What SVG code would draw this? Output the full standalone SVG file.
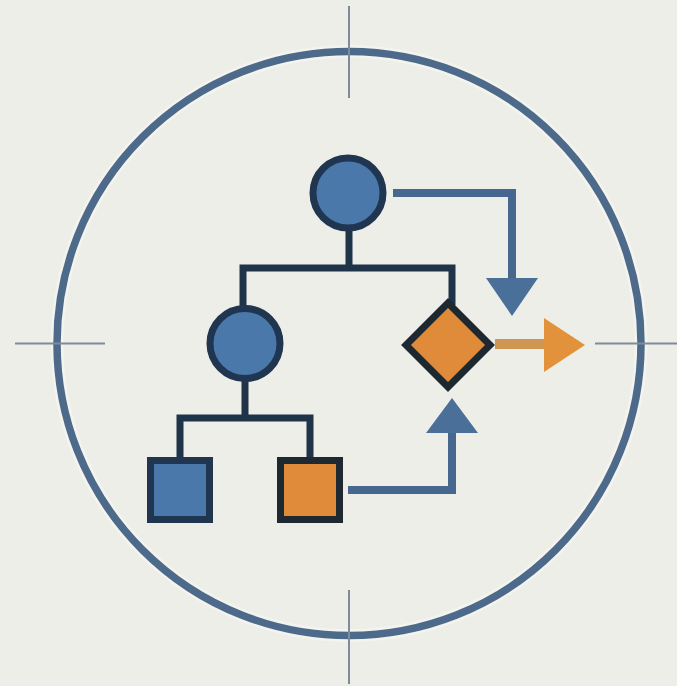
<svg xmlns="http://www.w3.org/2000/svg" width="677" height="686" viewBox="0 0 677 686">
  <style>
    .tick { stroke: #7c8c9a; stroke-width: 2; fill: none; }
    .ring { stroke: #4d6a8a; stroke-width: 7.5; fill: none; }
    .tree { stroke: #1f3349; stroke-width: 7; fill: none; stroke-linejoin: miter; }
    .flow { stroke: #46688e; stroke-width: 8; fill: none; stroke-linejoin: miter; }
    .head { fill: #4a6f98; }
    .blue { fill: #4a78aa; stroke: #1f3550; stroke-width: 7; }
    .orange { fill: #e08b3a; stroke: #1e2830; stroke-width: 7; }
  </style>
  <rect width="677" height="686" fill="#eeeee8"/>

  <!-- outer target ring with crosshair ticks -->
  <g id="target">
    <circle cx="349" cy="343.5" r="292" stroke="#ffffff" stroke-opacity="0.3" stroke-width="13" fill="none"/>
    <circle class="ring" cx="349" cy="343.5" r="292"/>
    <line class="tick" x1="349" y1="6" x2="349" y2="98"/>
    <line class="tick" x1="349" y1="590" x2="349" y2="684"/>
    <line class="tick" x1="15" y1="343.5" x2="105" y2="343.5"/>
    <line class="tick" x1="595" y1="343.5" x2="677" y2="343.5"/>
  </g>

  <!-- connectors -->
  <g id="connectors">
    <!-- hierarchy lines -->
    <path class="tree" d="M349 228 V268 M243 268 H452 M243 264.5 V306 M452 264.5 V305"/>
    <path class="tree" d="M245 380 V418 M180 418 H310 M180 414.5 V458 M310 414.5 V458"/>
    <!-- top node to decision -->
    <path class="flow" d="M393 193 H512 V282"/>
    <polygon class="head" points="486,278 538,278 512,316"/>
    <!-- orange square up to decision -->
    <path class="flow" d="M348 490 H452 V428"/>
    <polygon class="head" points="426,433 478,433 452,398"/>
    <!-- decision output -->
    <path d="M495 344 H548" stroke="#cf9552" stroke-width="10" fill="none"/>
    <polygon points="544,318 585,345 544,372" fill="#e3923c"/>
  </g>

  <g id="node-root">
    <circle class="blue" cx="348" cy="193" r="35"/>
  </g>
  <g id="node-mid">
    <circle class="blue" cx="245" cy="343.5" r="35"/>
  </g>
  <g id="node-decision">
    <polygon class="orange" points="448,303 490,345 448,387 406,345"/>
  </g>
  <g id="node-leaf-blue">
    <rect class="blue" x="150.5" y="460.5" width="59" height="59"/>
  </g>
  <g id="node-leaf-orange">
    <rect class="orange" x="280.5" y="460.5" width="59" height="59"/>
  </g>
</svg>
